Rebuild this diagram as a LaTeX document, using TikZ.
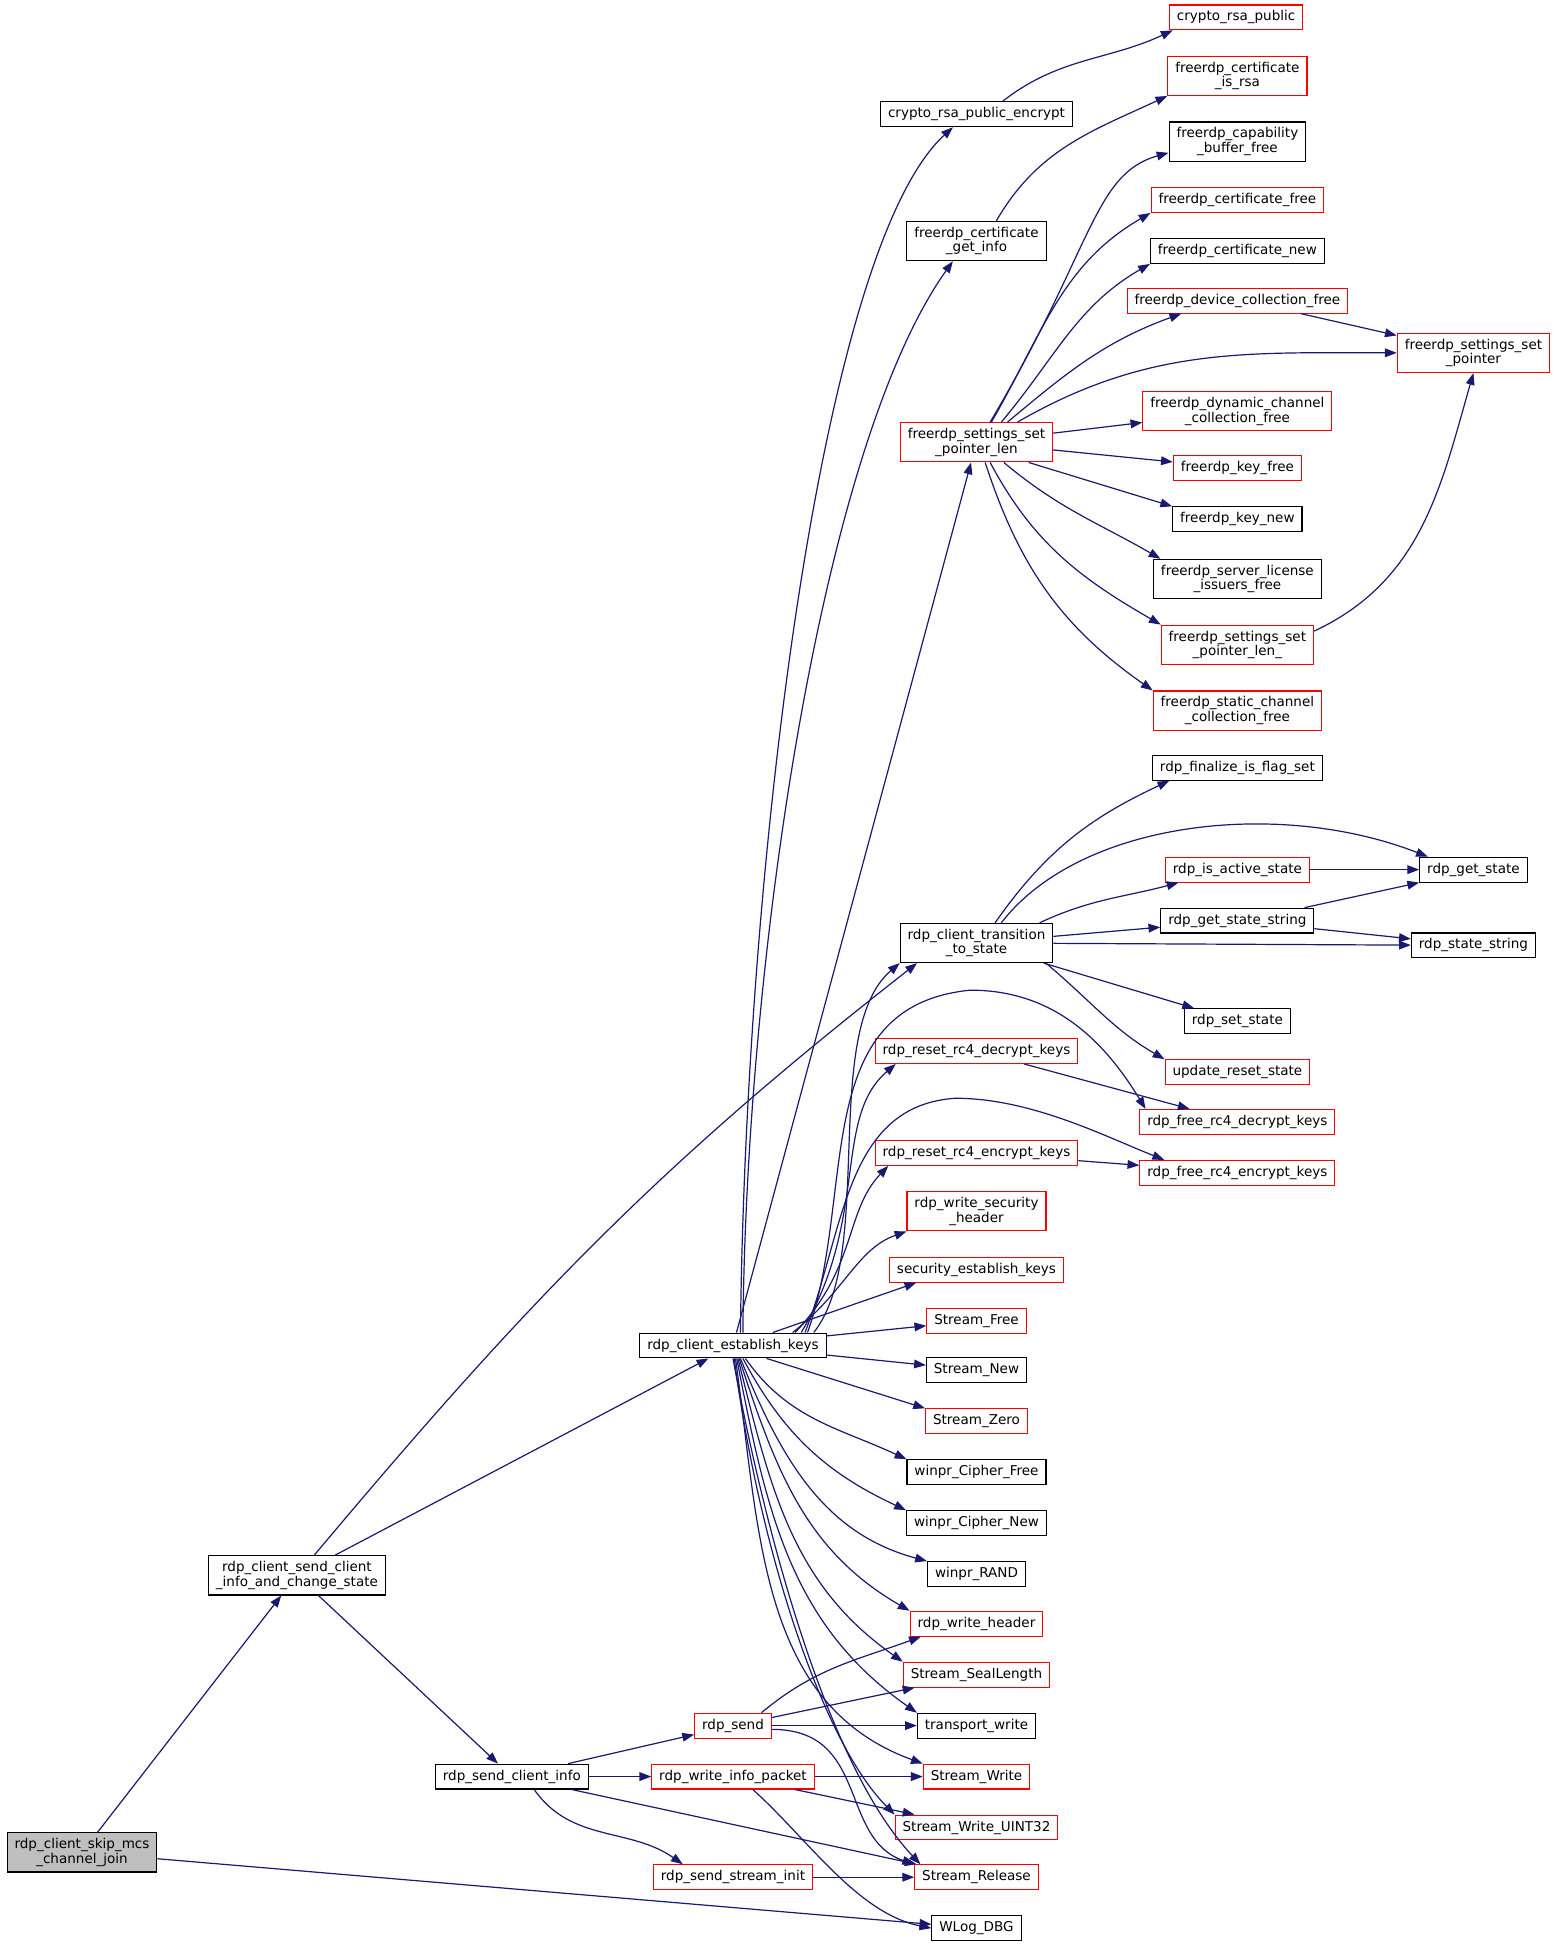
\documentclass[tikz,border=0pt]{standalone}
\usepackage{fontspec}
\setmainfont{DejaVu Sans}
\usepackage{xcolor}
\usepackage{tikz}
\usetikzlibrary{arrows.meta,positioning}
\definecolor{callblue}{HTML}{191970}
\definecolor{rootgray}{HTML}{BFBFBF}
\tikzset{
  fn/.style={draw=black, fill=white, line width=0.5pt, align=center, font=\fontsize{6.2}{6.7}\selectfont, inner xsep=0.12cm, inner ysep=0.09cm, minimum height=0.4cm},
  fnred/.style={fn, draw=red},
  fnroot/.style={fn, fill=rootgray},
  call/.style={draw=callblue, line width=0.55pt, -{Triangle[length=0.19cm,width=0.14cm]}}
}

\begin{document}
\begin{tikzpicture}[x=0.02cm, y=-0.02cm]
        \useasboundingbox (0,0) rectangle (1253,1568);

        % Callers
        \node[fnroot] (skipmcs) at (66,1491) {rdp\_client\_skip\_mcs\\\_channel\_join};
        \node[fn] (sendinfochg) at (239,1268) {rdp\_client\_send\_client\\\_info\_and\_change\_state};
        \node[fn] (sendinfo) at (412,1430) {rdp\_send\_client\_info};
        \node[fn] (estkeys) at (590,1083) {rdp\_client\_establish\_keys};
        \node[fnred] (rdpsend) at (590,1389) {rdp\_send};
        \node[fnred] (writeinfo) at (590,1430) {rdp\_write\_info\_packet};
        \node[fnred] (streaminit) at (590,1511) {rdp\_send\_stream\_init};

        % Middle column
        \node[fn] (rsaenc) at (786,92) {crypto\_rsa\_public\_encrypt};
        \node[fn] (certinfo) at (786,194) {freerdp\_certificate\\\_get\_info};
        \node[fnred] (ptrlen) at (786,356) {freerdp\_settings\_set\\\_pointer\_len};
        \node[fn] (transition) at (786,759) {rdp\_client\_transition\\\_to\_state};
        \node[fnred] (resetdec) at (786,846) {rdp\_reset\_rc4\_decrypt\_keys};
        \node[fnred] (resetenc) at (786,928) {rdp\_reset\_rc4\_encrypt\_keys};
        \node[fnred] (secheader) at (786,975) {rdp\_write\_security\\\_header};
        \node[fnred] (seckeys) at (786,1022) {security\_establish\_keys};
        \node[fnred] (sfree) at (786,1063) {Stream\_Free};
        \node[fn] (snew) at (786,1103) {Stream\_New};
        \node[fnred] (szero) at (786,1144) {Stream\_Zero};
        \node[fn] (cipherfree) at (786,1185) {winpr\_Cipher\_Free};
        \node[fn] (ciphernew) at (786,1226) {winpr\_Cipher\_New};
        \node[fn] (wrand) at (786,1267) {winpr\_RAND};
        \node[fnred] (writehdr) at (786,1307) {rdp\_write\_header};
        \node[fnred] (seallen) at (786,1348) {Stream\_SealLength};
        \node[fn] (twrite) at (786,1389) {transport\_write};
        \node[fnred] (swrite) at (786,1430) {Stream\_Write};
        \node[fnred] (suint) at (786,1471) {Stream\_Write\_UINT32};
        \node[fnred] (srelease) at (786,1511) {Stream\_Release};
        \node[fn] (wlog) at (786,1552) {WLog\_DBG};

        % Right column
        \node[fnred] (rsapub) at (995,14) {crypto\_rsa\_public};
        \node[fnred] (isrsa) at (996,61) {freerdp\_certificate\\\_is\_rsa};
        \node[fn] (capbuf) at (996,114) {freerdp\_capability\\\_buffer\_free};
        \node[fnred] (certfree) at (996,161) {freerdp\_certificate\_free};
        \node[fn] (certnew) at (996,202) {freerdp\_certificate\_new};
        \node[fnred] (devfree) at (996,242) {freerdp\_device\_collection\_free};
        \node[fnred] (dynfree) at (996,331) {freerdp\_dynamic\_channel\\\_collection\_free};
        \node[fnred] (keyfree) at (996,377) {freerdp\_key\_free};
        \node[fn] (keynew) at (996,418) {freerdp\_key\_new};
        \node[fn] (licfree) at (996,466) {freerdp\_server\_license\\\_issuers\_free};
        \node[fnred] (ptrlenu) at (996,519) {freerdp\_settings\_set\\\_pointer\_len\_};
        \node[fnred] (staticfree) at (996,572) {freerdp\_static\_channel\\\_collection\_free};
        \node[fn] (finalize) at (996,618) {rdp\_finalize\_is\_flag\_set};
        \node[fnred] (isactive) at (996,700) {rdp\_is\_active\_state};
        \node[fn] (statestrget) at (996,741) {rdp\_get\_state\_string};
        \node[fn] (setstate) at (996,822) {rdp\_set\_state};
        \node[fnred] (updreset) at (996,863) {update\_reset\_state};
        \node[fnred] (freedec) at (996,903) {rdp\_free\_rc4\_decrypt\_keys};
        \node[fnred] (freeenc) at (996,944) {rdp\_free\_rc4\_encrypt\_keys};

        % Far right
        \node[fnred] (setptr) at (1186,284) {freerdp\_settings\_set\\\_pointer};
        \node[fn] (getstate) at (1186,700) {rdp\_get\_state};
        \node[fn] (statestr) at (1186,761) {rdp\_state\_string};

        % skip_mcs_channel_join
        \draw[call] (skipmcs) -- (sendinfochg);
        \draw[call] (skipmcs) -- (wlog);

        % send_client_info_and_change_state
        \draw[call] (sendinfochg) -- (estkeys);
        \draw[call] ([xshift=0.28cm]sendinfochg.north) to[out=50,in=218] ([xshift=0.28cm]transition.south west);
        \draw[call] (sendinfochg) -- (sendinfo);

        % send_client_info
        \draw[call] (sendinfo) -- (rdpsend);
        \draw[call] (sendinfo) -- (writeinfo);
        \draw[call] ([xshift=0.36cm]sendinfo.south) to[out=-55,in=145] ([xshift=0.48cm]streaminit.north west);
        \draw[call] (sendinfo) -- (srelease);

        % rdp_send, write_info_packet, send_stream_init
        \draw[call] ([xshift=0.46cm]rdpsend.north) to[out=40,in=200] ([xshift=0.18cm]writehdr.south west);
        \draw[call] (rdpsend) -- (seallen);
        \draw[call] (rdpsend) -- (twrite);
        \draw[call] ([yshift=-0.06cm]rdpsend.east) .. controls (700,1392) and (675,1480) .. (srelease.north west);
        \draw[call] (writeinfo) -- (swrite);
        \draw[call] (writeinfo) -- (suint);
        \draw[call] ([xshift=0.32cm]writeinfo.south) .. controls (650,1480) and (690,1540) .. (wlog.west);
        \draw[call] (streaminit) -- (srelease);

        % establish_keys, upwards
        \draw[call] ([xshift=0.12cm]estkeys.north) .. controls (600,700) and (660,200) .. ([xshift=-0.38cm]rsaenc.south);
        \draw[call] ([xshift=0.16cm]estkeys.north) .. controls (600,780) and (660,360) .. ([xshift=-0.38cm]certinfo.south);
        \draw[call] (estkeys) -- (ptrlen);
        \draw[call] ([xshift=1.3cm]estkeys.north) .. controls (705,1010) and (660,830) .. (transition.south west);
        \draw[call] ([xshift=1.2cm]estkeys.north) .. controls (690,960) and (650,810) .. (781,797) .. controls (850,797) and (890,840) .. ([xshift=0.1cm]freedec.north west);
        \draw[call] ([xshift=1.1cm]estkeys.north) .. controls (700,980) and (670,900) .. ([xshift=0.34cm]resetdec.south west);
        \draw[call] ([xshift=1.16cm]estkeys.north) .. controls (680,990) and (680,890) .. (769,884) .. controls (830,884) and (890,915) .. ([xshift=0.4cm]freeenc.north west);
        \draw[call] ([xshift=1.0cm]estkeys.north) .. controls (690,1020) and (680,975) .. ([xshift=0.22cm]resetenc.south west);
        \draw[call] ([xshift=0.96cm]estkeys.north) .. controls (680,1040) and (690,1005) .. (secheader.south west);
        \draw[call] ([xshift=0.64cm]estkeys.north) -- ([xshift=0.44cm]seckeys.south west);

        % establish_keys, sideways and down
        \draw[call] (estkeys) -- (sfree);
        \draw[call] (estkeys) -- (snew);
        \draw[call] ([xshift=0.54cm]estkeys.south) -- (szero.north west);
        \draw[call] ([xshift=0.2cm]estkeys.south) to[out=-55,in=155] (cipherfree.north west);
        \draw[call] ([xshift=0.16cm]estkeys.south) to[out=-62,in=155] (ciphernew.north west);
        \draw[call] ([xshift=0.12cm]estkeys.south) to[out=-68,in=165] (wrand.north west);
        \draw[call] ([xshift=0.1cm]estkeys.south) to[out=-72,in=150] (writehdr.north west);
        \draw[call] ([xshift=0.08cm]estkeys.south) to[out=-76,in=145] (seallen.north west);
        \draw[call] ([xshift=0.06cm]estkeys.south) to[out=-79,in=145] (twrite.north west);
        \draw[call] ([xshift=0.04cm]estkeys.south) to[out=-82,in=160] (swrite.north west);
        \draw[call] ([xshift=0.02cm]estkeys.south) .. controls (610,1240) and (660,1400) .. (suint.north west);
        \draw[call] (estkeys.south) .. controls (615,1230) and (665,1420) .. ([xshift=0.1cm]srelease.north west);

        % certificate and rsa
        \draw[call] ([xshift=0.42cm]rsaenc.north) to[out=38,in=205] ([xshift=0.06cm]rsapub.south west);
        \draw[call] ([xshift=0.32cm]certinfo.north) to[out=60,in=205] (isrsa.south west);

        % settings_set_pointer_len
        \draw[call] ([xshift=0.22cm]ptrlen.north) .. controls (880,200) and (880,140) .. ([yshift=-0.18cm]capbuf.west);
        \draw[call] ([xshift=0.24cm]ptrlen.north) to[out=60,in=210] (certfree.south west);
        \draw[call] ([xshift=0.4cm]ptrlen.north) to[out=50,in=210] (certnew.south west);
        \draw[call] ([xshift=0.5cm]ptrlen.north) to[out=40,in=200] ([xshift=0.88cm]devfree.south west);
        \draw[call] ([xshift=0.66cm]ptrlen.north) to[out=30,in=180] (setptr.west);
        \draw[call] (ptrlen) -- (dynfree);
        \draw[call] (ptrlen) -- (keyfree);
        \draw[call] ([xshift=0.84cm]ptrlen.south) -- (keynew.north west);
        \draw[call] ([xshift=0.44cm]ptrlen.south) to[out=-40,in=150] ([xshift=0.12cm]licfree.north west);
        \draw[call] ([xshift=0.22cm]ptrlen.south) to[out=-62,in=150] (ptrlenu.north west);
        \draw[call] ([xshift=0.14cm]ptrlen.south) to[out=-72,in=145] (staticfree.north west);
        \draw[call] ([xshift=1.02cm]devfree.south) -- ([yshift=0.28cm]setptr.west);
        \draw[call] ([yshift=0.22cm]ptrlenu.east) to[out=25,in=-106] (setptr.south);

        % transition_to_state
        \draw[call] ([xshift=0.3cm]transition.north) to[out=55,in=205] ([xshift=0.28cm]finalize.south west);
        \draw[call] ([xshift=0.4cm]transition.north) .. controls (870,660) and (1030,643) .. ([xshift=0.14cm]getstate.north west);
        \draw[call] ([xshift=-0.22cm]transition.north east) to[out=25,in=195] ([xshift=0.22cm]isactive.south west);
        \draw[call] (transition) -- (statestrget);
        \draw[call] (transition) -- (statestr);
        \draw[call] (transition) -- (setstate);
        \draw[call] ([xshift=-0.12cm]transition.south east) to[out=-40,in=150] (updreset.north west);
        \draw[call] (isactive) -- (getstate);
        \draw[call] ([xshift=-0.16cm]statestrget.north east) -- (getstate.south west);
        \draw[call] (statestrget) -- (statestr);

        % rc4 keys
        \draw[call] (resetdec) -- (freedec);
        \draw[call] (resetenc) -- (freeenc);
\end{tikzpicture}
\end{document}
